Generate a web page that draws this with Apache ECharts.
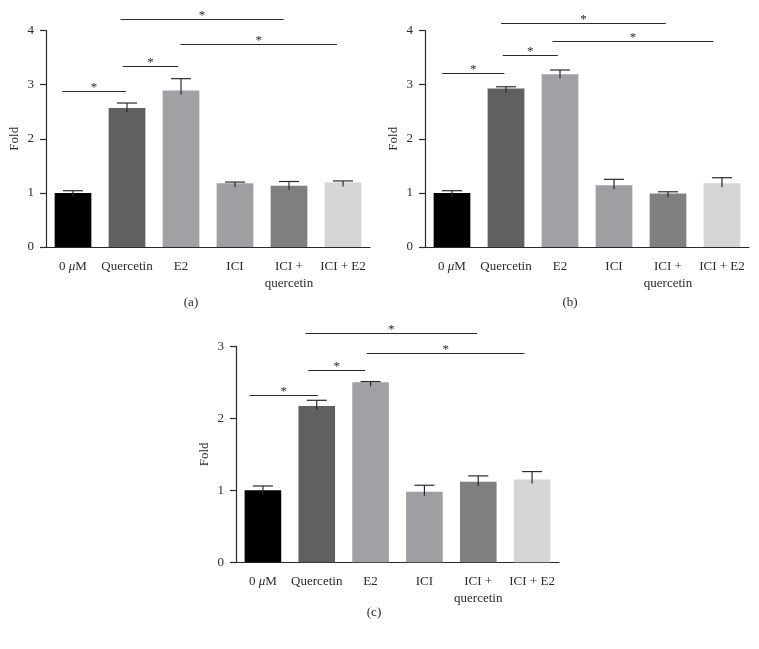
<!DOCTYPE html>
<html>
<head>
<meta charset="utf-8">
<title>Fold</title>
<script src="https://cdn.jsdelivr.net/npm/echarts@6/dist/echarts.min.js"></script>
<style>
html, body { margin: 0; padding: 0; background: #fff; }
#chart { width: 759px; height: 649px; }
</style>
</head>
<body>
<div id="chart"></div>
<script>
// groups on the x axis
var groups = ['0 μM', 'Quercetin', 'E2', 'ICI', 'ICI +\nquercetin', 'ICI + E2'];
var barColors = ['#000000', '#606060', '#a1a1a5', '#9f9fa3', '#808080', '#d5d5d5'];

// panel (a): mean and top of error bar
var meanA = [1.00, 2.57, 2.89, 1.18, 1.13, 1.19];
var errA  = [1.04, 2.66, 3.11, 1.20, 1.21, 1.22];
// significance brackets: [from group pos, to group pos, level]
var sigA  = [[-0.2, 0.98, 2.89], [0.92, 1.95, 3.35], [0.88, 3.9, 4.22], [1.99, 4.89, 3.75]];

// panel (b)
var meanB = [1.00, 2.93, 3.19, 1.14, 0.99, 1.18];
var errB  = [1.04, 2.96, 3.27, 1.25, 1.02, 1.28];
var sigB  = [[-0.18, 0.97, 3.22], [0.94, 1.96, 3.54], [0.91, 3.96, 4.14], [1.86, 4.84, 3.80]];

// panel (c)
var meanC = [1.00, 2.17, 2.50, 0.98, 1.12, 1.15];
var errC  = [1.06, 2.25, 2.51, 1.07, 1.20, 1.26];
var sigC  = [[-0.25, 1.02, 2.32], [0.84, 1.90, 2.67], [0.79, 3.98, 3.19], [1.93, 4.86, 2.91]];

var yMax = [4, 4, 3];
var captions = ['(a)', '(b)', '(c)'];

var FONT = '"Liberation Serif", "DejaVu Serif", serif';
var INK = '#2a2a2a';

var chart = echarts.init(document.getElementById('chart'));

function renderErr(params, api) {
    var base = api.coord([api.value(0), api.value(1)]);
    var top = api.coord([api.value(0), api.value(2)]);
    var cap = 10;
    return {
        type: 'group',
        children: [
            { type: 'line', shape: { x1: top[0], y1: base[1] + 4, x2: top[0], y2: top[1] },
              style: { stroke: INK, lineWidth: 1.2 } },
            { type: 'line', shape: { x1: top[0] - cap, y1: top[1], x2: top[0] + cap, y2: top[1] },
              style: { stroke: INK, lineWidth: 1.2 } }
        ]
    };
}

function renderSig(params, api) {
    var origin = api.coord([0, api.value(3)]);
    var band = api.size([1, 0])[0];
    var x1 = origin[0] + api.value(1) * band;
    var x2 = origin[0] + api.value(2) * band;
    var y = Math.round(origin[1]) + 0.5;
    return {
        type: 'group',
        children: [
            { type: 'line', shape: { x1: x1, y1: y, x2: x2, y2: y },
              style: { stroke: INK, lineWidth: 1 } },
            { type: 'text', x: (x1 + x2) / 2, y: y - 4,
              style: { text: '*', font: '13px ' + FONT, fill: INK, align: 'center', verticalAlign: 'middle' } }
        ]
    };
}

var grids = [
    { left: 46, top: 30.5, width: 324, height: 216.5 },
    { left: 425, top: 30.5, width: 324, height: 216.5 },
    { left: 236, top: 346.3, width: 323, height: 216 }
];

var means = [meanA, meanB, meanC];
var errs = [errA, errB, errC];
var sigs = [sigA, sigB, sigC];

var xAxes = [], yAxes = [], series = [], graphics = [];

for (var p = 0; p < 3; p++) {
    xAxes.push({
        type: 'category',
        gridIndex: p,
        data: groups,
        axisLine: { lineStyle: { color: INK, width: 1.2 } },
        axisTick: { alignWithLabel: true, length: 6, lineStyle: { color: INK, width: 1.2 } },
        axisLabel: {
            interval: 0,
            margin: 11,
            fontFamily: FONT,
            fontSize: 13,
            lineHeight: 17,
            color: INK,
            verticalAlign: 'top',
            formatter: function (v) { return v.replace('μ', '{mu|μ}'); },
            rich: { mu: { fontFamily: FONT, fontSize: 13, fontStyle: 'italic', color: INK } }
        },
        splitLine: { show: false }
    });
    yAxes.push({
        type: 'value',
        gridIndex: p,
        min: 0,
        max: yMax[p],
        interval: 1,
        name: 'Fold',
        nameLocation: 'middle',
        nameGap: 25,
        nameTextStyle: { fontFamily: FONT, fontSize: 13, color: INK },
        axisLine: { show: true, lineStyle: { color: INK, width: 1.2 } },
        axisTick: { show: true, length: 6, lineStyle: { color: INK, width: 1.2 } },
        axisLabel: { margin: 12, fontFamily: FONT, fontSize: 13, color: INK },
        splitLine: { show: false }
    });

    series.push({
        type: 'bar',
        xAxisIndex: p,
        yAxisIndex: p,
        barWidth: '68%',
        data: means[p].map(function (v, i) {
            return { value: v, itemStyle: { color: barColors[i] } };
        }),
        silent: true
    });
    series.push({
        type: 'custom',
        xAxisIndex: p,
        yAxisIndex: p,
        renderItem: renderErr,
        encode: { x: 0, y: 2 },
        data: means[p].map(function (v, i) { return [i, v, errs[p][i]]; }),
        z: 3,
        silent: true
    });
    series.push({
        type: 'custom',
        xAxisIndex: p,
        yAxisIndex: p,
        renderItem: renderSig,
        encode: { x: 0, y: 3 },
        data: sigs[p].map(function (s) { return [0, s[0], s[1], s[2]]; }),
        clip: false,
        z: 3,
        silent: true
    });
}

var capPos = [[191, 303], [570, 303], [374, 613]];
for (var c = 0; c < 3; c++) {
    graphics.push({
        type: 'text',
        x: capPos[c][0],
        y: capPos[c][1],
        style: { text: captions[c], font: '13px ' + FONT, fill: INK, align: 'center', verticalAlign: 'middle' }
    });
}

chart.setOption({
    animation: false,
    backgroundColor: '#ffffff',
    grid: grids,
    xAxis: xAxes,
    yAxis: yAxes,
    series: series,
    graphic: graphics
});
</script>
</body>
</html>
